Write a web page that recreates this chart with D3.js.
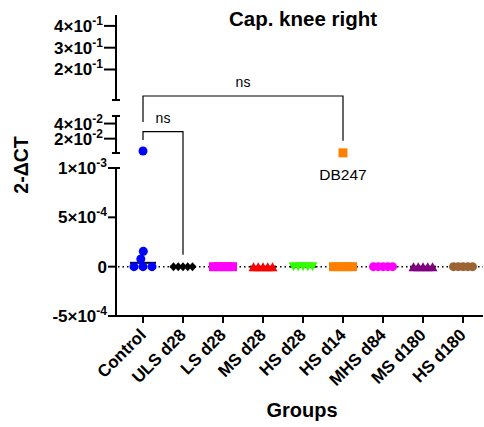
<!DOCTYPE html>
<html>
<head>
<meta charset="utf-8">
<script src="https://cdn.jsdelivr.net/npm/d3@7"></script>
<style>
  body { margin: 0; background: #fff; }
  text { font-family: Arial, "Liberation Sans", sans-serif; }
</style>
</head>
<body>
<div id="chart"></div>
<script>
// data
const groups = ["Control", "ULS d28", "LS d28", "MS d28", "HS d28", "HS d14", "MHS d84", "MS d180", "HS d180"];
const colors = ["#0000ff", "#000000", "#ff00ff", "#ff0000", "#33ff00", "#ff8000", "#ff00ff", "#800080", "#9c6433"];
const shapes = ["circle", "diamond", "square", "triangle", "triangleDown", "square", "circle", "triangle", "circle"];
const values = [
  [0.0037, 0.000155, 0.000078, 0, 0, 0],
  [0, 0, 0, 0, 0],
  [0, 0, 0, 0, 0],
  [0, 0, 0, 0, 0],
  [0, 0, 0, 0, 0],
  [0.0012, 0, 0, 0, 0, 0],
  [0, 0, 0, 0, 0],
  [0, 0, 0, 0, 0],
  [0, 0, 0, 0, 0]
];
const pointLabels = [{ group: "HS d14", value: 0.0012, text: "DB247" }];

// broken y axis: three segments, top to bottom
const segDomains = [[0.06, 0.45], [0.001, 0.05], [-0.0005, 0.001]];
const segTicks = [[0.2, 0.3, 0.4], [0.02, 0.04], [-0.0005, 0, 0.0005, 0.001]];

const comparisons = [
  { a: "Control", b: "ULS d28", level: 0.0292, label: "ns" },
  { a: "Control", b: "HS d14", level: 0.0784, label: "ns" }
];

const width = 484, height = 427;
const axisX = 116, axisY = 316;

const svg = d3.select("#chart")
  .append("svg")
  .attr("width", width)
  .attr("height", height);

const x = d3.scalePoint().domain(groups).range([143, 463]);

const segRanges = [[100, 15], [153, 116], [316, 168]];
const segs = segDomains.map((d, i) => d3.scaleLinear().domain(d).range(segRanges[i]));
function y(v) {
  if (v <= segDomains[2][1]) return segs[2](v);
  if (v <= segDomains[1][1]) return segs[1](v);
  return segs[0](v);
}

function fmt(v) {
  if (v === 0) return null;
  const e = Math.floor(Math.log10(Math.abs(v)) + 1e-9);
  const m = Math.round(v / Math.pow(10, e));
  return { m: m, e: e };
}

// y axis segments
segs.forEach((s, i) => {
  const r = s.range();
  const g = svg.append("g");
  g.append("line")
    .attr("x1", axisX).attr("x2", axisX)
    .attr("y1", r[0] + (i === 2 ? 1 : 0)).attr("y2", r[1])
    .attr("stroke", "#000").attr("stroke-width", 2);
  // caps at the breaks
  const caps = i === 0 ? [r[0]] : i === 1 ? [r[0], r[1]] : [r[1]];
  caps.forEach(cy => {
    g.append("line")
      .attr("x1", axisX - 4).attr("x2", axisX + 4)
      .attr("y1", cy).attr("y2", cy)
      .attr("stroke", "#000").attr("stroke-width", 2);
  });
  const tickLen = i === 2 ? 8 : 12;
  segTicks[i].forEach(t => {
    const ty = s(t);
    g.append("line")
      .attr("x1", axisX - tickLen).attr("x2", axisX)
      .attr("y1", ty).attr("y2", ty)
      .attr("stroke", "#000").attr("stroke-width", 2);
    const txt = g.append("text")
      .attr("x", axisX - tickLen - 1)
      .attr("y", ty + 6)
      .attr("text-anchor", "end")
      .attr("font-weight", "bold")
      .attr("font-size", 17);
    const f = fmt(t);
    if (!f) {
      txt.text("0");
    } else {
      txt.append("tspan").text(f.m + "\u00d710");
      txt.append("tspan").attr("dy", -7).attr("font-size", 12).text(String(f.e));
    }
  });
});

// x axis
svg.append("line")
  .attr("x1", axisX - 1).attr("x2", 483)
  .attr("y1", axisY).attr("y2", axisY)
  .attr("stroke", "#000").attr("stroke-width", 2);

groups.forEach(gname => {
  const gx = x(gname);
  svg.append("line")
    .attr("x1", gx).attr("x2", gx)
    .attr("y1", axisY).attr("y2", axisY + 7)
    .attr("stroke", "#000").attr("stroke-width", 2);
  svg.append("text")
    .attr("transform", `translate(${gx + 4},${axisY + 20}) rotate(-45)`)
    .attr("text-anchor", "end")
    .attr("font-weight", "bold")
    .attr("font-size", 17)
    .text(gname);
});

// zero reference line
svg.append("line")
  .attr("x1", axisX + 2).attr("x2", 483)
  .attr("y1", y(0)).attr("y2", y(0))
  .attr("stroke", "#000").attr("stroke-width", 1.5)
  .attr("stroke-dasharray", "1.5,3");

// medians
groups.forEach((gname, i) => {
  const med = d3.median(values[i]);
  svg.append("line")
    .attr("x1", x(gname) - 13).attr("x2", x(gname) + 13)
    .attr("y1", y(med)).attr("y2", y(med))
    .attr("stroke", "#000").attr("stroke-width", 2);
});

// marker paths
const r = 4.5;
const shapePath = {
  circle: () => `M${-r},0a${r},${r} 0 1,0 ${2 * r},0a${r},${r} 0 1,0 ${-2 * r},0Z`,
  square: () => `M${-r},${-r}h${2 * r}v${2 * r}h${-2 * r}Z`,
  diamond: () => `M0,${-r}L4,0L0,${r}L-4,0Z`,
  triangle: () => `M0,${-r}L5,${r}L-5,${r}Z`,
  triangleDown: () => `M0,${r}L5,${-r}L-5,${-r}Z`
};

// spread equal values across a row; lone points dodge rows they touch
groups.forEach((gname, i) => {
  const cx = x(gname);
  const placed = [];
  const rows = d3.groups(values[i], v => v).sort((a, b) => a[0] - b[0]);
  rows.forEach(([v, pts]) => {
    const n = pts.length;
    const py = y(v);
    let xs;
    if (n > 1) {
      const step = Math.min(9, 19 / (n - 1));
      xs = pts.map((p, k) => cx + (k - (n - 1) / 2) * step);
    } else {
      const d = 8;
      const near = placed.filter(q => Math.abs(q.y - py) < d);
      const cands = [cx];
      near.forEach(q => {
        const dx = Math.sqrt(d * d - (q.y - py) ** 2);
        cands.push(q.x - dx, q.x + dx);
      });
      const ok = cands.filter(c => near.every(q => Math.hypot(q.x - c, q.y - py) >= d - 0.01));
      ok.sort((a, b) => (Math.abs(a - cx) - Math.abs(b - cx)) || (a - b));
      xs = [ok.length ? ok[0] : cx];
    }
    xs.forEach(px => {
      placed.push({ x: px, y: py });
      svg.append("path")
        .attr("d", shapePath[shapes[i]]())
        .attr("transform", `translate(${px},${py})`)
        .attr("fill", colors[i]);
    });
  });
});

pointLabels.forEach(l => {
  svg.append("text")
    .attr("x", x(l.group))
    .attr("y", y(l.value) + 27)
    .attr("text-anchor", "middle")
    .attr("font-size", 15.5)
    .text(l.text);
});

// significance brackets
comparisons.forEach(c => {
  const ia = groups.indexOf(c.a), ib = groups.indexOf(c.b);
  const top = y(c.level);
  const xa = x(c.a), xb = x(c.b);
  const leftEnd = Math.min(y(d3.max(values[ia])) - 11, top + 26);
  const rightEnd = y(d3.max(values[ib])) - 12;
  svg.append("path")
    .attr("d", `M${xa},${leftEnd}V${top}H${xb}V${rightEnd}`)
    .attr("fill", "none")
    .attr("stroke", "#000")
    .attr("stroke-width", 1.2);
  svg.append("text")
    .attr("x", (xa + xb) / 2)
    .attr("y", top - 9)
    .attr("text-anchor", "middle")
    .attr("font-size", 14)
    .text(c.label);
});

// titles
svg.append("text")
  .attr("x", 303).attr("y", 26)
  .attr("text-anchor", "middle")
  .attr("font-weight", "bold")
  .attr("font-size", 20.5)
  .text("Cap. knee right");

svg.append("text")
  .attr("x", 302).attr("y", 417)
  .attr("text-anchor", "middle")
  .attr("font-weight", "bold")
  .attr("font-size", 20)
  .text("Groups");

svg.append("text")
  .attr("transform", "translate(28,165) rotate(-90)")
  .attr("text-anchor", "middle")
  .attr("font-weight", "bold")
  .attr("font-size", 19.5)
  .text("2-\u0394CT");
</script>
</body>
</html>
